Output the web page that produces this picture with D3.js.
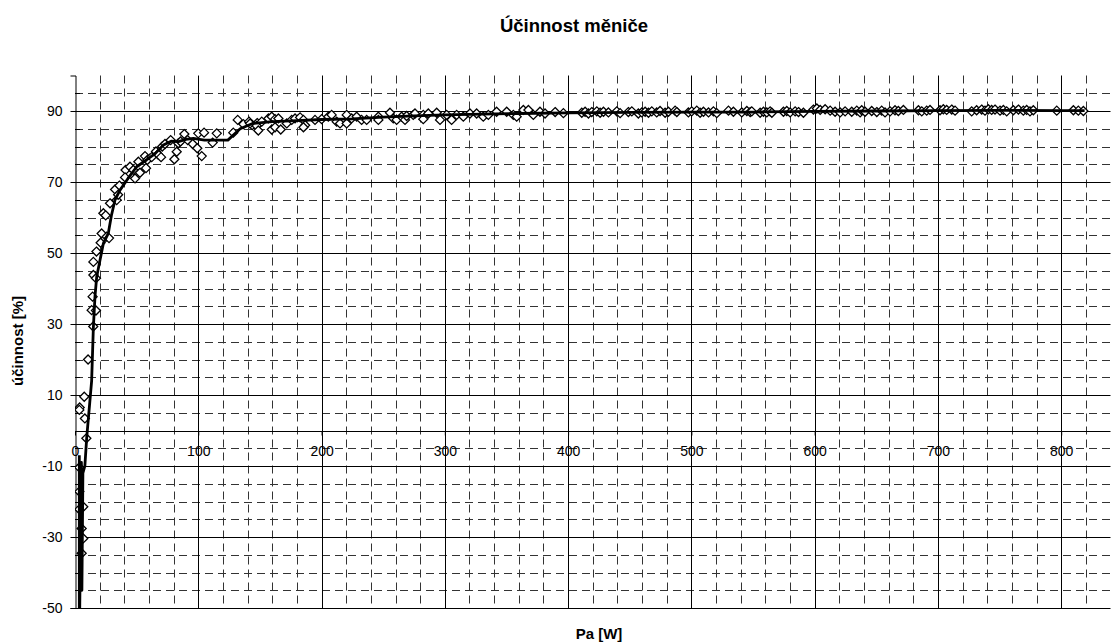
<!DOCTYPE html>
<html>
<head>
<meta charset="utf-8">
<script src="https://cdn.jsdelivr.net/npm/d3@7"></script>
<style>
  body { margin: 0; background: #fff; }
  svg { display: block; font-family: "Liberation Sans", Arial, sans-serif; }
  .tick text { font-size: 14px; fill: #000; }
</style>
</head>
<body>
<svg id="chart" width="1114" height="644"></svg>
<script>
// tick labels
var xTicks = [0, 100, 200, 300, 400, 500, 600, 700, 800];
var yTicks = [-50, -30, -10, 10, 30, 50, 70, 90];

// vyhlazená křivka (plná čára)
var fitLine = [[3.5,-7],[3.5,-60],[5.2,-9],[5.6,-45],[6.4,-12],[8,-10],[9.5,-2],[12,8],[13.5,14],
  [14.9,29],[16.2,37.7],[17.6,43.3],[20.3,48],[23,52.7],[27,55.5],[29.5,60.5],[32.5,65],[36.5,67.7],
  [43,71],[50,74.3],[58,76.2],[65,78],[71.7,80.4],[78,81.5],[84,81.4],[90,82],[96,82.3],[105,81.8],
  [112,81.8],[124,81.8],[134,85],[144,86.5],[160,87],[180,87.3],[200,87.6],[225,87.8],[250,88.3],
  [275,88.6],[300,88.9],[330,89.1],[360,89.3],[400,89.5],[450,89.6],[500,89.7],[550,89.7],[600,89.9],
  [650,90],[700,90.1],[750,90.2],[800,90.1],[819,90.1]];

// naměřené body - nízký výkon
var measuredLow = [[3.5,-10.4],[3.5,-17.2],[3.5,-22.2],[6.7,-21.5],[5.4,-27.6],[6.7,-30.4],[5.4,-34.6],
  [3.8,6.5],[3.5,5.8],[7.5,9.5],[8,3.4],[9.2,-2.2],[10.6,20],[14.8,29.3],[13.5,33.9],[17,33.8],
  [14.3,37.7],[14.9,43.8],[17,42.9],[14.9,47.5],[17.4,50.4],[20.8,52.9],[21.6,55.5],[25.7,54.6],
  [27.6,54.2],[23,61.2],[24.9,60.6],[28.4,64],[32.5,67.9],[33.8,64.9],[36,69],[35,66.4],[41,73.4],
  [40.6,71.3],[44.6,74.3],[47.3,73.4],[48.7,71],[52.7,72.6],[51.4,75.7],[56.8,77.3],[58.7,76.2],
  [57.6,73.9],[62.2,77],[65.7,78.6],[67.3,77.8],[69.8,77],[70.8,80],[73,80.7],[77.6,81.8],[80.6,76.4],
  [82.5,78.5],[83.8,80.9],[85.6,81.4],[88.7,83.5],[91.4,81.8],[95.5,80.7],[99.2,79.5],[102.8,77.3],
  [100,83.7],[104.7,83.9],[111.7,81.1],[115,83.7],[128.4,83.9],[132,87.5],[136.6,86.3],[141.2,87],
  [143.8,86],[147.8,86.6]];

// naměřené body - střední výkon
var measuredMid = [[142,86.5],[147.4,85.8],[148.7,84.5],[151.5,87],[156.9,87.9],[159.6,88.4],[159.6,84.8],
  [162.3,87.7],[162.3,85.4],[165,87.9],[166.9,84.8],[171.8,86.5],[175.8,87.5],[178.5,87.9],[182.6,88.2],
  [185.3,87.5],[186.7,86],[185.3,85.4],[194.7,87.5],[200.1,87.7],[205.5,88.4],[208.2,88.9],[212.3,87],
  [215,86.5],[220.4,88.9],[220.4,86.5],[224.4,87.9],[228.5,88.4],[232.5,87.5],[236.6,87.5],[246.1,88.4],
  [246.1,87.5],[255.5,89.5],[258.2,87.9],[260.9,87.5],[265,88.4],[267.7,87.5],[269,88.6],[274.4,88.9],
  [275.8,89.3],[282.5,88.9],[282.5,87.7],[286.6,89.3],[293.4,89.5],[296.1,87.5],[301.5,88.9],[305.5,87.5],
  [309.6,88.9],[315,88.4],[320.4,89.3],[325.8,89.3],[331.2,88.4],[335.3,88.9],[342,89.8],[350.2,89.8],
  [355.6,88.9],[358.3,88.4],[363.7,90.3],[367.8,90.3],[371.8,88.9],[377.2,89.8],[381.3,89.3]];

// naměřené body - vysoký výkon
var measuredHigh = [[389.5,89.7],[396.2,89.4],[411.1,89.5],[413.8,89.8],[416.5,89.3],[419.2,89.7],
  [423.3,89.9],[426,89.5],[428.7,89.8],[432.7,89.6],[439.5,89.9],[442.2,89.4],[448.9,89.7],[451.7,89.9],
  [457,89.3],[459.8,89.6],[462.5,89.8],[465.2,89.5],[467.9,89.9],[471.9,89.6],[474.6,90.0],[478.7,89.5],
  [481.4,89.8],[486.8,90.1],[488.2,89.7],[497.6,89.6],[500.3,89.9],[504.4,90.1],[507.1,89.5],[509.8,89.8],
  [513.9,89.6],[517.9,89.9],[520.6,89.4],[530.1,90.1],[534.1,89.8],[540.9,89.6],[545,90.0],[547.7,89.7],
  [549,89.9],[555.8,89.5],[558.5,89.8],[561.2,89.6],[563.9,89.9],[565.3,89.5],[574.7,89.8],[577.4,90.0],
  [580.1,89.6],[584.2,89.9],[586.9,89.7],[590.9,89.5],[599,90.4],[601.8,90.7],[604.5,90.3],[608.5,90.5],
  [612.6,90.1],[616.6,89.8],[620.7,89.6],[624.7,89.9],[630.1,89.8],[634.2,90.1],[636.9,89.6],[638.2,90.2],
  [640.9,89.8],[646.3,90.0],[650.4,89.7],[654.4,90.1],[657.1,89.6],[661.2,89.9],[665.2,90.2],[667.9,90.0],
  [672,90.3],[684.2,90.2],[686.9,89.9],[690.9,90.1],[693.6,90.3],[701.7,90.2],[704.4,90.5],[707.1,90.3],
  [711.2,90.4],[713.9,90.1],[727.4,89.9],[731.4,90.2],[735.5,90.4],[738.2,90.1],[740.9,90.5],[743.6,90.3],
  [746.3,90.4],[750.4,90.1],[753.1,90.3],[755.8,89.9],[761.2,90.2],[765.3,90.4],[769.3,90.1],[772,90.3],
  [774.7,89.9],[777.4,90.2],[796.4,90.1],[809.9,90.2],[813.9,90.1],[818,90.0]];

var svg = d3.select("#chart");
var pLeft = 75, pRight = 1110.5, pTop = 75.5, pBottom = 608;

var x = d3.scaleLinear().domain([0, 840]).range([pLeft, pRight]);
var y = d3.scaleLinear().domain([-50, 100]).range([pBottom, pTop]);

var isMajorY = function (v) { return (v + 50) % 20 === 0; };
var minorY = d3.range(-45, 100, 5).filter(function (v) { return !isMajorY(v) && v !== 0; });
var minorX = d3.range(20, 840, 20).filter(function (v) { return v % 100 !== 0; });
var px = function (v) { return Math.round(v) + 0.5; };
var fmt = function (d) { return String(d); };// obyčejný spojovník místo znaku minus

var grid = svg.append("g");
// čárkované pomocné mřížky
grid.selectAll(".hmin").data(minorY).enter().append("line")
  .attr("x1", pLeft).attr("x2", pRight)
  .attr("y1", function (d) { return px(y(d)); })
  .attr("y2", function (d) { return px(y(d)); })
  .attr("stroke", "#333").attr("stroke-dasharray", "8,5");
grid.selectAll(".vmin").data(minorX).enter().append("line")
  .attr("y1", pTop).attr("y2", pBottom)
  .attr("x1", function (d) { return px(x(d)); })
  .attr("x2", function (d) { return px(x(d)); })
  .attr("stroke", "#333").attr("stroke-dasharray", "8,5");
// hlavní mřížky
grid.selectAll(".hmaj").data(yTicks).enter().append("line")
  .attr("x1", pLeft).attr("x2", pRight)
  .attr("y1", function (d) { return px(y(d)); })
  .attr("y2", function (d) { return px(y(d)); })
  .attr("stroke", "#000");
grid.selectAll(".vmaj").data(xTicks.slice(1)).enter().append("line")
  .attr("y1", pTop).attr("y2", pBottom)
  .attr("x1", function (d) { return px(x(d)); })
  .attr("x2", function (d) { return px(x(d)); })
  .attr("stroke", "#000");

// osy
var yAxis = d3.axisLeft(y).tickValues(yTicks).tickSize(5).tickPadding(8).tickFormat(fmt);
var gy = svg.append("g").attr("transform", "translate(" + px(pLeft) + ",0)").call(yAxis);
gy.select(".domain").attr("stroke", "#000");
svg.append("g").selectAll("line").data(minorY.concat([0])).enter().append("line")
  .attr("x1", pLeft).attr("x2", pLeft + 5)
  .attr("y1", function (d) { return px(y(d)); })
  .attr("y2", function (d) { return px(y(d)); })
  .attr("stroke", "#000");

var xAxis = d3.axisBottom(x).tickValues(xTicks).tickSize(4).tickPadding(11).tickFormat(fmt);
var gx = svg.append("g").attr("transform", "translate(0," + px(y(0)) + ")").call(xAxis);
gx.select(".domain").attr("d", "M" + pLeft + ",0H" + pRight);

// data
svg.append("clipPath").attr("id", "plot").append("rect")
  .attr("x", pLeft).attr("y", pTop).attr("width", pRight - pLeft).attr("height", pBottom - pTop);
var plot = svg.append("g").attr("clip-path", "url(#plot)");

var diamond = "M0,-4.5L4.5,0L0,4.5L-4.5,0Z";
plot.selectAll(".pt").data(measuredLow.concat(measuredMid, measuredHigh)).enter().append("path")
  .attr("d", diamond)
  .attr("transform", function (d) { return "translate(" + x(d[0]) + "," + y(d[1]) + ")"; })
  .attr("fill", "#fff").attr("stroke", "#000").attr("stroke-width", 1.3);

var line = d3.line().x(function (d) { return x(d[0]); }).y(function (d) { return y(d[1]); });
plot.append("path").datum(fitLine).attr("d", line)
  .attr("fill", "none").attr("stroke", "#000").attr("stroke-width", 2.8).attr("stroke-linejoin", "round");

// popisky
svg.append("text").attr("x", 574).attr("y", 32).attr("text-anchor", "middle")
  .attr("font-size", 18.5).attr("font-weight", "bold").text("Účinnost měniče");
svg.append("text").attr("x", 599).attr("y", 639).attr("text-anchor", "middle")
  .attr("font-size", 15).attr("font-weight", "bold").text("Pa [W]");
svg.append("text").attr("transform", "translate(23,341) rotate(-90)").attr("text-anchor", "middle")
  .attr("font-size", 15).attr("font-weight", "bold").text("účinnost [%]");
</script>
</body>
</html>
